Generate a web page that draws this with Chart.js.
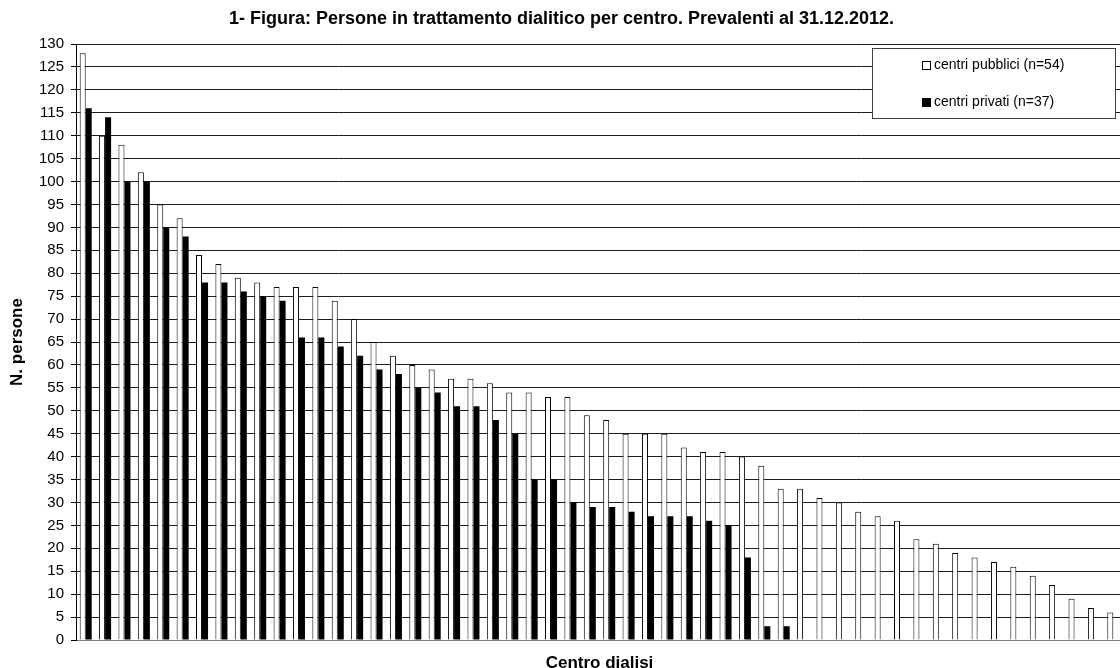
<!DOCTYPE html>
<html>
<head>
<meta charset="utf-8">
<script src="https://cdn.jsdelivr.net/npm/chart.js@4.4.1/dist/chart.umd.min.js"></script>
<style>
html,body{margin:0;padding:0;overflow:hidden;background:#fff;width:1120px;height:668px}
#wrap{width:1126px;height:680px;position:relative}
canvas{display:block}
</style>
</head>
<body>
<div id="wrap"><canvas id="c" width="1126" height="680"></canvas></div>
<script>
const chartTitle = "1- Figura: Persone in trattamento dialitico per centro. Prevalenti al 31.12.2012.";
const yAxisTitle = "N. persone";
const xAxisTitle = "Centro dialisi";
const seriesNames = ["centri pubblici (n=54)", "centri privati (n=37)"];

const categories = ["1","2","3","4","5","6","7","8","9","10","11","12","13","14","15","16","17","18",
  "19","20","21","22","23","24","25","26","27","28","29","30","31","32","33","34","35","36",
  "37","38","39","40","41","42","43","44","45","46","47","48","49","50","51","52","53","54"];

const pubblici = [128,110,108,102,95,92,84,82,79,78,77,77,77,74,70,65,62,60,
  59,57,57,56,54,54,53,53,49,48,45,45,45,42,41,41,40,38,
  33,33,31,30,28,27,26,22,21,19,18,17,16,14,12,9,7,6];

const privati = [116,114,100,100,90,88,78,78,76,75,74,66,66,64,62,59,58,55,
  54,51,51,48,45,35,35,30,29,29,28,27,27,27,26,25,18,3,3];

const yMin = 0, yMax = 130, yStep = 5;

const FONT = '"Liberation Sans", Arial, Helvetica, sans-serif';

const boxLegend = {
  id: 'boxLegend',
  afterDraw(chart) {
    const {ctx, chartArea} = chart;
    const w = 243, h = 70;
    const x = Math.round(chartArea.right - 8 - w), y = Math.round(chartArea.top + 4);
    ctx.save();
    ctx.fillStyle = '#ffffff';
    ctx.fillRect(x, y, w, h);
    ctx.strokeStyle = '#404040';
    ctx.lineWidth = 1;
    ctx.strokeRect(x + 0.5, y + 0.5, w, h);
    ctx.font = '14px ' + FONT;
    ctx.textBaseline = 'middle';
    ctx.textAlign = 'left';
    chart.data.datasets.forEach((ds, i) => {
      const cy = y + 17 + i * 37;
      const sx = x + 50, s = 8;
      ctx.fillStyle = ds.backgroundColor;
      ctx.fillRect(sx + 0.5, Math.round(cy - s / 2) + 0.5, s, s);
      ctx.strokeStyle = '#000';
      ctx.strokeRect(sx + 0.5, Math.round(cy - s / 2) + 0.5, s, s);
      ctx.fillStyle = '#000';
      ctx.fillText(ds.label, x + 62, cy);
    });
    ctx.restore();
  }
};

new Chart(document.getElementById('c'), {
  type: 'bar',
  data: {
    labels: categories,
    datasets: [
      {
        label: seriesNames[0],
        data: pubblici,
        backgroundColor: '#ffffff',
        borderColor: '#000000',
        borderWidth: 1,
        barPercentage: 1,
        categoryPercentage: 0.62
      },
      {
        label: seriesNames[1],
        data: privati,
        backgroundColor: '#000000',
        borderColor: '#000000',
        borderWidth: 0,
        barPercentage: 1,
        categoryPercentage: 0.62
      }
    ]
  },
  options: {
    responsive: false,
    animation: false,
    devicePixelRatio: 1,
    layout: { padding: { left: 0, right: 3, top: 0, bottom: 0 } },
    plugins: {
      legend: { display: false },
      tooltip: { enabled: false },
      title: {
        display: true,
        text: chartTitle,
        color: '#000',
        font: { family: FONT, size: 18, weight: 'bold' },
        padding: { top: 8, bottom: 14.4 }
      }
    },
    scales: {
      x: {
        grid: { display: false },
        border: { display: true, color: '#808080', width: 1 },
        ticks: { display: false },
        title: {
          display: true,
          text: xAxisTitle,
          color: '#000',
          font: { family: FONT, size: 17, weight: 'bold' },
          padding: { top: 0, bottom: 6.8 }
        },
        afterFit(scale) { scale.height = 40; }
      },
      y: {
        min: yMin,
        max: yMax,
        grid: { color: '#1e1e1e', lineWidth: 1, tickLength: 5, drawTicks: true, tickColor: '#000' },
        border: { display: true, color: '#000', width: 1 },
        ticks: {
          stepSize: yStep,
          color: '#000',
          padding: 7,
          font: { family: FONT, size: 15 }
        },
        title: {
          display: true,
          text: yAxisTitle,
          color: '#000',
          font: { family: FONT, size: 17, weight: 'bold' },
          padding: { top: 7.3, bottom: 0 }
        },
        afterFit(scale) { scale.width = 76; }
      }
    }
  },
  plugins: [boxLegend]
});
</script>
</body>
</html>
